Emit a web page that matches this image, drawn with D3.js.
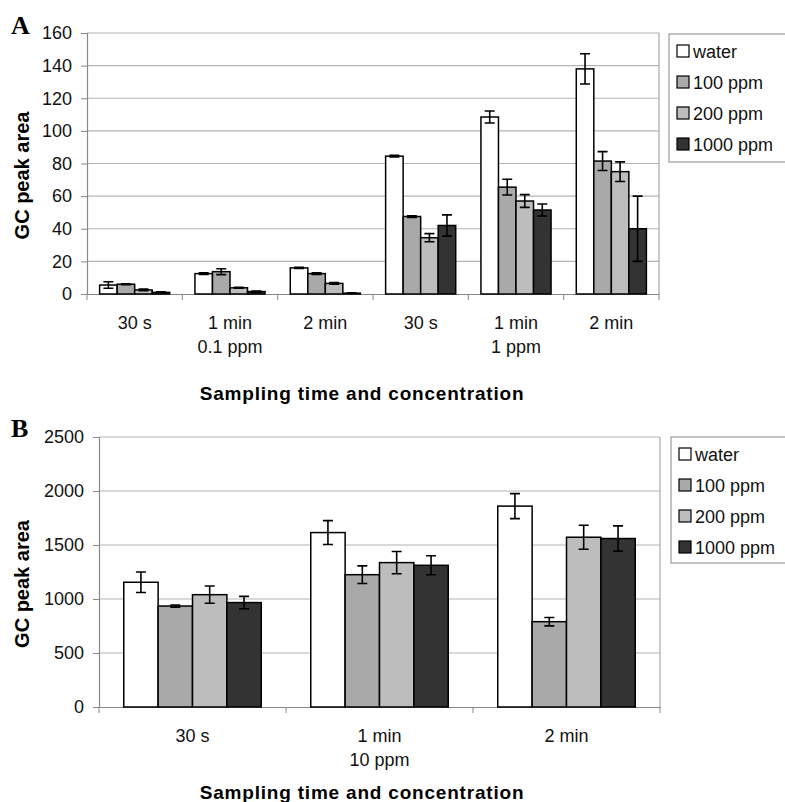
<!DOCTYPE html>
<html>
<head>
<meta charset="utf-8">
<script src="https://cdn.jsdelivr.net/npm/d3@7"></script>
<style>
  body { margin: 0; background: #fff; }
  svg text { font-family: Arial, "Liberation Sans", sans-serif; }
</style>
</head>
<body>
<svg></svg>
<script>
// series / legend
const seriesNames = ['water', '100 ppm', '200 ppm', '1000 ppm'];

// panel A (0.1 ppm and 1 ppm)
const timesA = ['30 s', '1 min', '2 min', '30 s', '1 min', '2 min'];
const concA = ['', '0.1 ppm', '', '', '1 ppm', ''];
const waterA = [5.5, 12.5, 16, 84.5, 108.5, 138];
const waterErrA = [2, 0.5, 0.3, 0.5, 3.7, 9.3];
const ppm100A = [6, 13.7, 12.5, 47.5, 65.5, 81.5];
const ppm100ErrA = [0.3, 1.8, 0.5, 0.5, 4.8, 5.8];
const ppm200A = [2.5, 3.8, 6.5, 34.5, 57, 75];
const ppm200ErrA = [0.5, 0.3, 0.5, 2.5, 3.9, 6];
const ppm1000A = [1, 1.5, 0.5, 42, 51.5, 40];
const ppm1000ErrA = [0.3, 0.3, 0.2, 6.5, 3.7, 20];
const ticksA = [0, 20, 40, 60, 80, 100, 120, 140, 160];

// panel B (10 ppm)
const timesB = ['30 s', '1 min', '2 min'];
const concB = ['', '10 ppm', ''];
const waterB = [1155, 1615, 1860];
const waterErrB = [95, 111, 116];
const ppm100B = [935, 1225, 790];
const ppm100ErrB = [10, 82, 39];
const ppm200B = [1040, 1337, 1572];
const ppm200ErrB = [80, 103, 111];
const ppm1000B = [967, 1312, 1560];
const ppm1000ErrB = [57, 88, 117];
const ticksB = [0, 500, 1000, 1500, 2000, 2500];

let width = 785;
let height = 802;
let colors = ['#ffffff', '#a9a9a9', '#bdbdbd', '#333333'];
let svg = d3.select('svg').attr('width', width).attr('height', height);

drawPanel({
    letter: 'A', letterY: 34,
    left: 87, right: 659, top: 33, bottom: 294,
    times: timesA, conc: concA,
    values: [waterA, ppm100A, ppm200A, ppm1000A],
    errs: [waterErrA, ppm100ErrA, ppm200ErrA, ppm1000ErrA],
    ticks: ticksA,
    titleY: 400,
    legend: { x: 669, y: 34, h: 128 }
});

drawPanel({
    letter: 'B', letterY: 437,
    left: 99, right: 660, top: 437, bottom: 707,
    times: timesB, conc: concB,
    values: [waterB, ppm100B, ppm200B, ppm1000B],
    errs: [waterErrB, ppm100ErrB, ppm200ErrB, ppm1000ErrB],
    ticks: ticksB,
    titleY: 799,
    legend: { x: 671, y: 437, h: 126 }
});

function drawPanel(p) {
    let g = svg.append('g');
    let idx = p.times.map((d, i) => i);

    /**
     * scales
     */
    let x0 = d3.scaleBand().domain(idx).range([p.left, p.right]);
    let x1 = d3.scaleBand().domain(seriesNames).range([0, x0.bandwidth()])
        .paddingInner(0).paddingOuter(0.72);
    let y = d3.scaleLinear()
        .domain([0, d3.max(p.ticks)])
        .range([p.bottom, p.top]);

    // gridlines + frame
    g.append('g')
        .selectAll('line')
        .data(p.ticks.slice(1))
        .enter()
        .append('line')
        .attr('x1', p.left).attr('x2', p.right)
        .attr('y1', d => y(d)).attr('y2', d => y(d))
        .attr('stroke', '#b4b4b4')
        .attr('stroke-width', 1.2);
    g.append('line')
        .attr('x1', p.right).attr('x2', p.right)
        .attr('y1', p.top).attr('y2', p.bottom)
        .attr('stroke', '#a8a8a8')
        .attr('stroke-width', 1.2);

    // y axis
    let yAxis = d3.axisLeft(y).tickValues(p.ticks).tickFormat(d3.format('d'))
        .tickSize(6).tickPadding(9);
    let yLayer = g.append('g')
        .attr('transform', `translate(${p.left},0)`)
        .call(yAxis);
    yLayer.select('.domain').attr('stroke', '#888').attr('stroke-width', 1.2);
    yLayer.selectAll('.tick line').attr('stroke', '#888');
    yLayer.selectAll('.tick text')
        .attr('font-size', 18)
        .attr('fill', '#111')
        .style('font-family', 'Arial, "Liberation Sans", sans-serif');

    // x axis (labels at band centres, ticks at boundaries)
    let xAxis = d3.axisBottom(x0).tickSize(0).tickPadding(0).tickFormat('');
    let xLayer = g.append('g')
        .attr('transform', `translate(0,${p.bottom})`)
        .call(xAxis);
    xLayer.select('.domain').attr('stroke', '#888').attr('stroke-width', 1.2);
    xLayer.selectAll('.tick text').remove();
    xLayer.selectAll('.tick').each(function(d) {
        let t = d3.select(this).append('text')
            .attr('text-anchor', 'middle')
            .attr('fill', '#111')
            .attr('font-size', 18);
        t.append('tspan').attr('x', 0).attr('y', 35).text(p.times[d]);
        if (p.conc[d]) t.append('tspan').attr('x', 0).attr('y', 59).text(p.conc[d]);
    });
    xLayer.selectAll('.bound')
        .data(idx.concat([idx.length]))
        .enter()
        .append('line')
        .attr('class', 'bound')
        .attr('x1', d => d < idx.length ? x0(d) : p.right)
        .attr('x2', d => d < idx.length ? x0(d) : p.right)
        .attr('y1', 0).attr('y2', 6)
        .attr('stroke', '#888');

    // bars
    let groups = g.append('g')
        .selectAll('g')
        .data(idx)
        .enter()
        .append('g')
        .attr('transform', d => `translate(${x0(d)},0)`);

    let cells = groups.selectAll('g')
        .data(i => seriesNames.map((s, k) => ({ s, k, v: p.values[k][i], e: p.errs[k][i] })))
        .enter()
        .append('g');

    cells.append('rect')
        .attr('x', d => x1(d.s))
        .attr('y', d => y(d.v))
        .attr('width', x1.bandwidth())
        .attr('height', d => y(0) - y(d.v))
        .attr('fill', d => colors[d.k])
        .attr('stroke', '#000')
        .attr('stroke-width', 1.5);

    // error bars
    let cap = 5;
    cells.append('path')
        .attr('d', d => {
            let cx = x1(d.s) + x1.bandwidth() / 2;
            let yt = y(d.v + d.e), yb = y(Math.max(0, d.v - d.e));
            return `M${cx},${yt}V${yb}M${cx - cap},${yt}H${cx + cap}M${cx - cap},${yb}H${cx + cap}`;
        })
        .attr('fill', 'none')
        .attr('stroke', '#000')
        .attr('stroke-width', 1.6);

    // panel letter
    g.append('text')
        .attr('x', 11).attr('y', p.letterY)
        .attr('font-size', 26)
        .attr('font-weight', 'bold')
        .style('font-family', '"Liberation Serif", "Times New Roman", serif')
        .text(p.letter);

    // axis titles
    g.append('text')
        .attr('transform', `translate(29,${(p.top + p.bottom) / 2 + 12}) rotate(-90)`)
        .attr('text-anchor', 'middle')
        .attr('font-size', 20)
        .attr('font-weight', 'bold')
        .text('GC peak area');

    g.append('text')
        .attr('x', 362).attr('y', p.titleY)
        .attr('text-anchor', 'middle')
        .attr('font-size', 19)
        .attr('font-weight', 'bold')
        .attr('letter-spacing', 0.8)
        .text('Sampling time and concentration');

    // legend
    let lg = g.append('g');
    lg.append('rect')
        .attr('x', p.legend.x).attr('y', p.legend.y)
        .attr('width', 140).attr('height', p.legend.h)
        .attr('fill', '#fff')
        .attr('stroke', '#999')
        .attr('stroke-width', 1.2);
    let items = lg.selectAll('.item')
        .data(seriesNames)
        .enter()
        .append('g')
        .attr('class', 'item')
        .attr('transform', (d, i) => `translate(${p.legend.x + 8},${p.legend.y + 17 + i * 31})`);
    items.append('rect')
        .attr('x', 0).attr('y', -6)
        .attr('width', 12).attr('height', 12)
        .attr('fill', (d, i) => colors[i])
        .attr('stroke', '#000')
        .attr('stroke-width', 1.2);
    items.append('text')
        .attr('x', 16).attr('y', 6.5)
        .attr('font-size', 18)
        .attr('fill', '#111')
        .text(d => d);
}
</script>
</body>
</html>
